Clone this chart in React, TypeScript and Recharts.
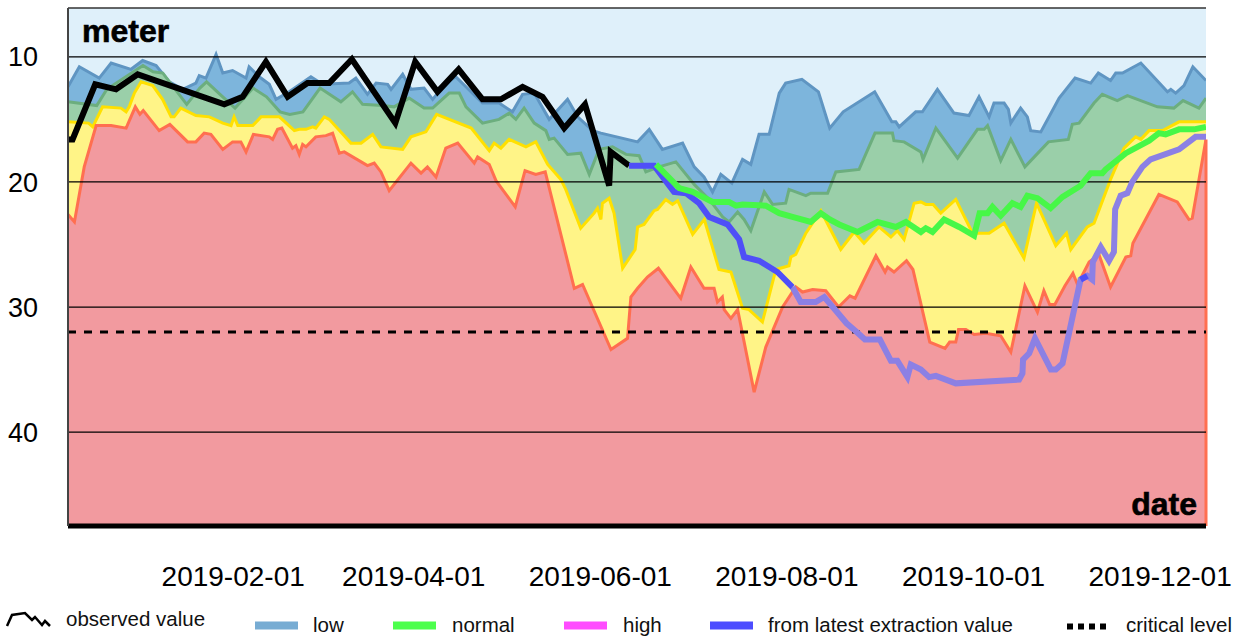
import { Area, CartesianGrid, ComposedChart, Legend, Line, ReferenceLine, XAxis, YAxis } from "recharts";

// x = days since 2018-12-09, y = depth in meter (axis reversed)
const startDate = "2018-12-09"
const tickLabels = ["2019-02-01", "2019-04-01", "2019-06-01", "2019-08-01", "2019-10-01", "2019-12-01"]
const depthTicks = [10, 20, 30, 40]
const criticalLevel = 32

// upper edge of the "low" band
const lowLimit: [number, number][] = [
    [0, 12.4], [3.7, 10.8], [10.2, 11.7], [14.1, 10.5], [20.6, 11.0], [24.4, 10.3], [28.8, 10.7], [33.1, 12.0],
    [37.5, 12.6], [41.8, 12.1], [42.9, 11.5], [45.1, 11.7], [48.4, 9.8], [50.6, 11.3], [53.8, 11.1], [58.2, 11.7],
    [59.2, 10.8], [62.5, 11.6], [65.8, 12.2], [68.0, 13.4], [72.3, 12.8], [79.4, 11.6], [83.2, 12.2], [91.9, 12.1],
    [94.1, 11.7], [97.9, 13.0], [100.7, 12.1], [104.5, 12.2], [105.6, 12.6], [109.4, 11.4], [112.1, 12.6], [116.4, 12.5],
    [119.2, 13.4], [123.5, 12.1], [126.8, 11.6], [135.5, 13.7], [140.9, 13.7], [145.3, 14.4], [148.6, 13.0], [152.4, 12.9],
    [157.3, 15.0], [163.3, 13.4], [166.6, 14.8], [171.5, 15.9], [174.2, 16.1], [186.2, 16.8], [190.0, 15.8], [194.3, 17.4],
    [200.9, 16.9], [204.7, 18.8], [207.9, 19.6], [210.7, 20.8], [213.4, 19.4], [217.0, 20.1], [220.5, 18.2], [223.2, 18.6],
    [225.9, 16.2], [229.2, 16.2], [232.5, 12.9], [234.6, 12.1], [239.9, 11.8], [245.3, 12.8], [249.0, 15.7], [253.4, 14.4],
    [263.7, 12.8], [269.3, 15.2], [270.6, 15.2], [271.7, 15.6], [277.1, 14.4], [279.3, 14.4], [284.2, 12.6], [289.6, 14.5],
    [294.5, 14.7], [297.8, 13.2], [301.1, 14.8], [302.7, 13.7], [306.0, 13.7], [307.4, 14.2], [308.2, 15.3], [311.4, 14.1],
    [313.6, 14.8], [314.7, 15.9], [318.0, 16.0], [324.0, 13.3], [329.2, 11.7], [334.3, 12.1], [336.8, 11.3], [340.8, 11.9],
    [342.5, 11.3], [344.7, 11.3], [350.7, 10.5], [359.4, 12.8], [360.5, 12.6], [362.1, 12.9], [364.8, 12.3], [367.7, 10.8],
    [372, 11.9],
]

// upper edge of the "normal" band
const normalLimit: [number, number][] = [
    [0, 13.6], [9.4, 13.9], [12.7, 12.6], [24.5, 10.7], [27.8, 11.2], [31.0, 11.3], [38.8, 13.8], [43.1, 12.5],
    [45.3, 12.0], [49.7, 13.0], [54.6, 14.1], [60.5, 12.5], [64.9, 13.2], [69.3, 14.4], [72.5, 14.6], [76.8, 14.4],
    [82.4, 12.5], [89.2, 13.6], [93.0, 12.8], [96.3, 13.8], [102.8, 13.9], [106.6, 14.0], [111.5, 13.3], [116.4, 14.1],
    [119.2, 14.1], [124.6, 12.9], [127.9, 12.9], [130.1, 14.0], [135.5, 15.3], [140.9, 15.0], [144.2, 14.5], [146.4, 15.0],
    [149.1, 14.1], [152.4, 15.3], [156.2, 15.9], [157.3, 16.6], [158.9, 16.5], [163.3, 17.8], [167.6, 17.7], [170.4, 19.4],
    [173.6, 17.4], [178.0, 17.2], [182.4, 17.8], [186.7, 17.9], [188.9, 19.2], [193.2, 18.8], [198.7, 18.4], [204.7, 20.2],
    [209.6, 21.4], [214.0, 22.8], [216.1, 23.2], [218.9, 22.4], [221.0, 23.0], [223.2, 23.9], [227.6, 20.8], [230.3, 21.8],
    [234.6, 21.7], [235.7, 20.6], [241.2, 21.1], [242.8, 20.9], [248.3, 20.9], [251.0, 19.2], [258.6, 19.0], [263.8, 16.1],
    [269.5, 16.1], [270.0, 16.7], [273.3, 16.8], [278.8, 17.6], [279.5, 18.2], [283.7, 15.7], [290.8, 18.1], [297.3, 15.8],
    [299.5, 15.8], [300.6, 15.5], [304.9, 18.3], [308.2, 16.6], [312.8, 18.8], [320.5, 16.8], [327.0, 16.6], [328.3, 15.4],
    [330.5, 15.3], [335.4, 13.7], [338.1, 13.0], [343.0, 13.5], [346.3, 13.1], [356.1, 14.0], [361.5, 14.1], [364.5, 13.5],
    [369.7, 14.1], [372, 13.3],
]

// upper edge of the "high" band
const highLimit: [number, number][] = [
    [0, 15.2], [6.7, 15.3], [8.1, 15.6], [11.3, 14.0], [17.3, 14.1], [19.0, 14.4], [20.0, 14.0], [21.7, 12.9],
    [23.9, 12.0], [27.7, 12.3], [30.9, 13.4], [33.7, 14.8], [34.7, 14.8], [36.9, 14.1], [41.8, 14.7], [46.2, 14.8],
    [50.6, 15.3], [53.3, 15.5], [54.3, 14.8], [55.5, 15.5], [60.4, 15.5], [63.1, 14.8], [69.1, 14.8], [74.0, 15.9],
    [75.6, 15.8], [77.8, 15.8], [80.0, 15.6], [81.0, 15.7], [83.8, 14.8], [85.4, 15.0], [92.5, 16.9], [95.8, 16.9],
    [99.6, 16.2], [102.3, 17.2], [109.4, 17.4], [112.1, 16.4], [117.0, 16.0], [120.5, 14.6], [131.8, 15.7], [137.7, 17.5],
    [139.3, 16.9], [141.5, 17.3], [144.2, 16.6], [149.7, 17.2], [152.9, 16.8], [156.8, 18.6], [161.1, 19.8], [162.7, 20.6],
    [167.6, 23.7], [172.0, 22.5], [173.1, 22.1], [174.2, 23.0], [174.7, 21.7], [176.9, 21.3], [178.5, 22.5], [181.3, 26.9],
    [185.4, 25.4], [186.2, 23.6], [188.3, 23.4], [191.6, 22.3], [192.7, 22.2], [195.4, 21.4], [197.6, 21.8], [199.3, 21.5],
    [204.2, 24.2], [208.0, 23.0], [212.8, 27.0], [216.7, 27.2], [220.5, 30.1], [222.6, 30.2], [227.0, 31.2], [231.4, 27.0],
    [235.7, 26.7], [236.3, 26.0], [237.9, 25.8], [241.2, 24.1], [246.1, 22.3], [252.6, 25.4], [257.0, 24.0], [260.2, 24.9],
    [265.1, 23.6], [269.0, 24.4], [271.1, 23.9], [273.3, 24.6], [276.6, 21.7], [278.8, 21.6], [280.4, 21.8], [282.8, 21.8],
    [285.3, 22.5], [290.2, 21.4], [295.7, 24.1], [301.1, 24.1], [306.0, 23.3], [312.5, 26.1], [316.6, 21.7], [322.9, 25.1],
    [326.4, 24.1], [327.8, 25.4], [333.2, 23.6], [335.4, 23.3], [340.8, 19.8], [345.2, 17.3], [349.0, 16.4], [350.7, 16.6],
    [353.4, 15.9], [357.8, 15.9], [363.2, 15.2], [372, 15.2],
]

// upper edge of the lowest (red) band
const veryHighLimit: [number, number][] = [
    [0, 22.6], [2.1, 23.2], [5.3, 18.8], [9.2, 15.5], [14.1, 15.5], [19.0, 15.7], [22.0, 14.0], [23.5, 14.6],
    [24.6, 14.3], [29.8, 15.9], [33.3, 15.4], [39.1, 16.8], [41.8, 16.8], [44.5, 16.1], [46.7, 16.2], [50.6, 17.4],
    [53.8, 16.8], [56.5, 16.8], [58.2, 17.6], [60.6, 16.2], [65.8, 16.4], [66.9, 16.6], [68.5, 15.8], [69.9, 15.7],
    [73.4, 17.3], [74.5, 17.1], [75.6, 17.8], [76.7, 17.0], [77.8, 17.2], [81.0, 16.4], [84.3, 16.3], [86.5, 16.1],
    [88.7, 17.7], [90.3, 17.6], [97.9, 18.7], [100.1, 18.5], [102.3, 19.2], [105.0, 20.7], [112.1, 18.5], [115.4, 19.3],
    [117.5, 18.8], [120.3, 19.6], [123.5, 17.3], [127.4, 16.9], [132.8, 18.5], [133.9, 18.0], [137.7, 18.6], [139.9, 19.9],
    [146.2, 22.0], [149.4, 19.1], [152.9, 19.4], [156.0, 19.2], [165.5, 28.5], [168.2, 28.2], [177.5, 33.4], [182.9, 32.5],
    [184.0, 29.2], [186.2, 28.5], [189.4, 27.6], [193.0, 26.9], [200.3, 29.3], [203.6, 26.8], [207.9, 28.5], [211.2, 28.5],
    [212.3, 29.6], [213.9, 29.2], [214.5, 30.2], [216.7, 30.9], [218.9, 30.2], [224.3, 36.8], [228.1, 33.2], [233.6, 30.0],
    [237.9, 28.4], [240.1, 28.8], [243.4, 28.6], [247.7, 28.7], [251.9, 30.0], [255.6, 29.1], [257.3, 29.3], [264.1, 25.9],
    [267.1, 27.2], [267.9, 26.8], [270.0, 27.2], [274.1, 26.3], [276.2, 27.0], [281.7, 32.8], [286.7, 33.3], [288.2, 32.8],
    [290.2, 32.8], [291.1, 31.8], [293.5, 31.8], [296.2, 32.2], [300.0, 32.1], [304.9, 32.3], [308.2, 33.6], [312.8, 28.3],
    [316.9, 30.4], [319.0, 28.7], [320.9, 29.8], [322.6, 29.8], [325.9, 28.3], [328.5, 27.3], [330.0, 28.2], [333.8, 26.4],
    [337.0, 25.8], [340.8, 28.4], [345.8, 26.0], [347.4, 25.9], [348.1, 24.9], [356.6, 21.0], [362.6, 21.6], [366.4, 23.0],
    [367.5, 22.9], [372, 16.6],
]

const observed: [number, number][] = [
    [0, 16.6], [1.5, 16.6], [8.9, 12.2], [15.7, 12.6], [22.8, 11.4], [51.1, 13.8], [57.1, 13.2], [64.7, 10.4],
    [71.8, 13.2], [78.3, 12.1], [85.4, 12.1], [92.8, 10.2], [107.0, 15.3], [113.5, 10.4], [120.8, 12.8], [127.7, 11.0],
    [135.5, 13.4], [141.5, 13.4], [148.6, 12.4], [155.1, 13.2], [162.2, 15.7], [169.0, 13.8], [176.9, 20.3], [177.4, 17.6],
    [183.4, 18.7],
]

const normalForecast: [number, number][] = [
    [192.2, 18.6], [199.8, 20.5], [204.2, 20.8], [210.7, 21.6], [216.1, 21.6], [218.3, 21.9], [220.5, 21.8], [228.1, 21.9],
    [232.5, 22.5], [236.8, 22.8], [242.8, 23.2], [246.1, 22.5], [249.0, 23.0], [252.1, 23.4], [258.1, 24.0], [264.6, 23.2],
    [270.6, 23.6], [273.9, 23.2], [278.8, 24.0], [280.4, 23.7], [282.6, 24.0], [286.4, 23.0], [291.3, 23.6], [296.2, 24.3],
    [298.0, 22.5], [300.6, 22.5], [302.2, 22.0], [304.9, 22.7], [308.7, 21.7], [311.4, 22.0], [313.6, 21.1], [316.9, 21.3],
    [321.2, 22.1], [325.1, 21.2], [331.0, 20.3], [334.3, 19.3], [338.1, 19.3], [339.2, 19.0], [345.8, 17.7], [353.4, 16.7],
    [356.6, 16.1], [358.8, 16.2], [363.2, 15.8], [368.1, 15.8], [372, 15.6],
]

const extractionFaded: [number, number][] = [
    [236.8, 28.4], [239.5, 29.6], [244.4, 29.6], [247.2, 29.2], [250.7, 30.2], [254.5, 31.3], [257.8, 32.0], [260.5, 32.6],
    [265.4, 32.6], [269.0, 34.3], [271.1, 34.3], [274.4, 35.6], [275.5, 34.6], [278.8, 35.0], [281.5, 35.6], [283.7, 35.5],
    [290.2, 36.1], [310.9, 35.8], [312.0, 35.3], [312.2, 34.2], [314.2, 33.7], [316.1, 32.5], [321.3, 35.0], [322.9, 35.0],
    [325.1, 34.5], [331.0, 27.8], [333.2, 27.5], [334.8, 27.8], [335.0, 26.4], [337.6, 25.2], [340.3, 26.3], [341.9, 25.6],
    [342.3, 22.2], [344.1, 21.1], [346.3, 20.9], [347.9, 20.0], [351.2, 18.8], [353.9, 18.2], [363.2, 17.4], [368.6, 16.4],
    [372, 16.4],
]

const extractionMain: [number, number][] = [
    [183.4, 18.7], [191.6, 18.7], [198.1, 20.8], [202.0, 20.9], [206.3, 21.7], [209.6, 22.8], [215.6, 23.4], [219.4, 24.6],
    [221.0, 26.0], [225.9, 26.3], [231.9, 27.2], [236.8, 28.4],
]
const extractionLate: [number, number][] = [[331.0, 27.8], [333.2, 27.5]]

const font = '"Liberation Sans", Arial, sans-serif'
const DAY = 86400000

const rows = (pts: [number, number][]) => pts.map(([d, v]) => ({ d, v }))
const dayOf = (s: string) => (Date.parse(s) - Date.parse(startDate)) / DAY
const tickDays = tickLabels.map(dayOf)
const lastRed = veryHighLimit[veryHighLimit.length - 1]

const LegendBox = () => (
    <svg width={1244} height={36} style={{ display: "block", fontFamily: font }}>
        <path d="M7,26 L12,15 L25,13 L32,20 L35,17 L42,25 L45,21 L50,26" fill="none" stroke="#000" strokeWidth={2.5} />
        <text x={66} y={26} fontSize={20.5} fill="#111">observed value</text>
        <rect x={255} y={21.5} width={43} height={8} fill="#77acd3" />
        <text x={313} y={32} fontSize={20.5} fill="#111">low</text>
        <rect x={393} y={21.5} width={43} height={8} fill="#4cff4c" />
        <text x={452} y={32} fontSize={20.5} fill="#111">normal</text>
        <rect x={564} y={21.5} width={43} height={8} fill="#ff4cff" />
        <text x={623} y={32} fontSize={20.5} fill="#111">high</text>
        <rect x={710} y={21.5} width={43} height={8} fill="#4c4cff" />
        <text x={768} y={32} fontSize={20.5} fill="#111">from latest extraction value</text>
        <line x1={1067} x2={1109} y1={26.5} y2={26.5} stroke="#000" strokeWidth={6} strokeDasharray="6 5" />
        <text x={1126} y={32} fontSize={20.5} fill="#111">critical level</text>
    </svg>
)

const App = () => {
    return (
        <div style={{ position: "absolute", left: 0, top: 0, width: 1244, height: 636 }}>
            <ComposedChart width={1244} height={636} margin={{ top: 8, right: 38, bottom: 40, left: 0 }} style={{ fontFamily: font }}>
                <CartesianGrid horizontal={false} vertical={false} fill="#dff0fa" stroke="none" />
                <XAxis type="number" dataKey="d" domain={[0, 372]} allowDataOverflow ticks={tickDays} interval={0}
                       tickFormatter={(d: number) => tickLabels[tickDays.indexOf(d)] ?? ""}
                       height={70} tickLine={false} tickMargin={34}
                       axisLine={{ stroke: "#000", strokeWidth: 5 }} tick={{ fill: "#000", fontSize: 28 }} />
                <YAxis type="number" domain={[6.1, 47.5]} allowDataOverflow reversed ticks={depthTicks} interval={0}
                       width={68} tickLine={false} tickMargin={24}
                       axisLine={{ stroke: "#444", strokeWidth: 2 }} tick={{ fill: "#000", fontSize: 27 }} />

                <Area data={rows(lowLimit)} dataKey="v" type="linear" baseValue="dataMax" fill="#7db5dc" fillOpacity={1}
                      stroke="#5f95c2" strokeWidth={3} dot={false} activeDot={false} isAnimationActive={false} />
                <Area data={rows(normalLimit)} dataKey="v" type="linear" baseValue="dataMax" fill="#9acfa9" fillOpacity={1}
                      stroke="#6cae7e" strokeWidth={3} dot={false} activeDot={false} isAnimationActive={false} />
                <Area data={rows(highLimit)} dataKey="v" type="linear" baseValue="dataMax" fill="#fff487" fillOpacity={1}
                      stroke="#ffe000" strokeWidth={3} dot={false} activeDot={false} isAnimationActive={false} />
                <Area data={rows(veryHighLimit)} dataKey="v" type="linear" baseValue="dataMax" fill="#f29a9f" fillOpacity={1}
                      stroke="#ff6f50" strokeWidth={3} dot={false} activeDot={false} isAnimationActive={false} />

                <ReferenceLine segment={[{ x: lastRed[0], y: lastRed[1] }, { x: lastRed[0], y: 47.5 }]} stroke="#ff6f50" strokeWidth={3} />
                <ReferenceLine y={6.1} stroke="#333" strokeWidth={1.5} />
                {depthTicks.map(t => <ReferenceLine key={t} y={t} stroke="#000" strokeWidth={1.3} />)}
                <ReferenceLine y={criticalLevel} stroke="#000" strokeWidth={3} strokeDasharray="8 8" />

                <Line data={rows(observed)} dataKey="v" type="linear" stroke="#000" strokeWidth={6} dot={false} activeDot={false} isAnimationActive={false} />
                <Line data={rows(extractionFaded)} dataKey="v" type="linear" stroke="#8c80e4" strokeWidth={6} dot={false} activeDot={false} isAnimationActive={false} />
                <Line data={rows(extractionMain)} dataKey="v" type="linear" stroke="#4f4ff7" strokeWidth={6} dot={false} activeDot={false} isAnimationActive={false} />
                <Line data={rows(extractionLate)} dataKey="v" type="linear" stroke="#4f4ff7" strokeWidth={6} dot={false} activeDot={false} isAnimationActive={false} />
                <Line data={rows(normalForecast)} dataKey="v" type="linear" stroke="#47f747" strokeWidth={6} dot={false} activeDot={false} isAnimationActive={false} />

                <Legend content={() => <LegendBox />} verticalAlign="bottom"
                        wrapperStyle={{ left: 0, top: 600, bottom: "auto", width: 1244, height: 0 }} />
            </ComposedChart>
            <svg width={1244} height={636} style={{ position: "absolute", left: 0, top: 0, pointerEvents: "none", fontFamily: font }}>
                <text x={82} y={42} fontSize={32} fontWeight={700} fill="#000" stroke="#000" strokeWidth={0.6}>meter</text>
                <text x={1197} y={515} fontSize={32} fontWeight={700} fill="#000" stroke="#000" strokeWidth={0.6} textAnchor="end">date</text>
            </svg>
        </div>
    )
}

export default App
